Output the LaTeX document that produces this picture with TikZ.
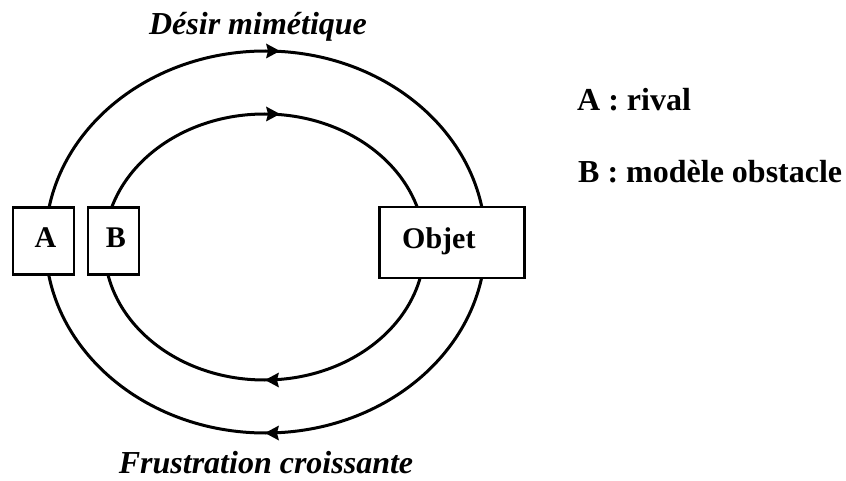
\documentclass[tikz,border=0pt]{standalone}
\usepackage{fontspec}
\setmainfont{Liberation Serif}
\begin{document}
\begin{tikzpicture}[x=1pt,y=-1pt,
  ring/.style={line width=3pt},
  box/.style={draw,line width=2.6pt,fill=white,inner sep=0pt},
  boxtxt/.style={font=\fontsize{30}{36}\selectfont\bfseries,inner sep=0pt},
  ttl/.style={font=\fontsize{32}{38}\selectfont\bfseries\itshape,inner sep=0pt,anchor=base},
  leg/.style={font=\fontsize{32}{38}\selectfont\bfseries,inner sep=0pt,anchor=base west},
  tip/.style={fill=black}]
\useasboundingbox (0,0) rectangle (846,481);
% rings
\draw[ring] (265.5,242) ellipse [x radius=220, y radius=191];
\draw[ring] (264.5,247) ellipse [x radius=160, y radius=133];
% arrowheads
\fill[tip] (280,51) -- (266,43.5) -- (268,51) -- (266,58.5) -- cycle;
\fill[tip] (280,114) -- (266,106.5) -- (268,114) -- (266,121.5) -- cycle;
\fill[tip] (265,380) -- (279,372.5) -- (277,380) -- (279,387.5) -- cycle;
\fill[tip] (265,433) -- (279,425.5) -- (277,433) -- (279,440.5) -- cycle;
% boxes
\node[box,minimum width=61pt,minimum height=67pt] (A) at (43.5,241) {};
\node[box,minimum width=51pt,minimum height=67pt] (B) at (113.5,241) {};
\node[box,minimum width=145pt,minimum height=71pt] (O) at (452,242.5) {};
\node[boxtxt,anchor=base] (Atxt) at (45.5,247.5) {A};
\node[boxtxt,anchor=base] (Btxt) at (116,247.5) {B};
\node[boxtxt,anchor=base west] (Otxt) at (402,248) {Objet};
% titles
\node[ttl] (t1) at (258,35) {Désir mimétique};
\node[ttl] (t2) at (266,473) {Frustration croissante};
% legend
\node[leg] (l1) at (577,111) {A : rival};
\node[leg] (l2) at (578,183) {B : modèle obstacle};
\end{tikzpicture}
\end{document}
